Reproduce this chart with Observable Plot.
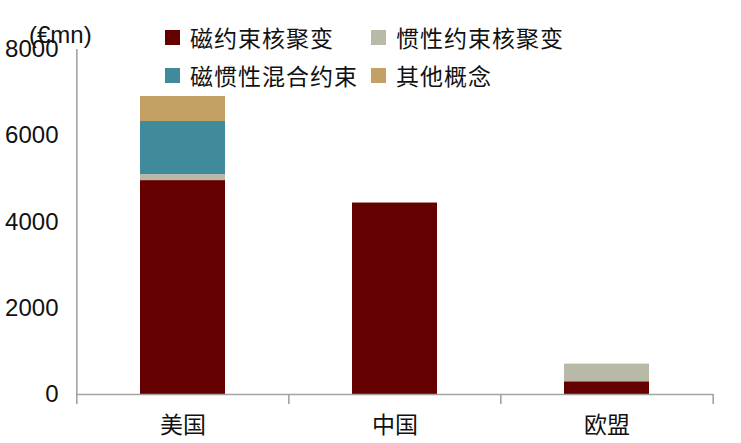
<!DOCTYPE html>
<html><head><meta charset="utf-8">
<script src="https://cdn.jsdelivr.net/npm/d3@7"></script>
<script src="https://cdn.jsdelivr.net/npm/@observablehq/plot@0.6"></script>
<style>
body{margin:0;background:#fff;}
#wrap{position:relative;width:741px;height:443px;font-family:"Liberation Sans","Noto Sans CJK SC",sans-serif;}
#wrap svg{position:absolute;left:0;top:0;}
.lg{position:absolute;display:flex;align-items:center;height:30px;font-size:23px;letter-spacing:1px;color:#111;font-family:"Noto Sans CJK SC",sans-serif;white-space:nowrap;}
.sw{width:15px;height:15px;margin-right:10px;flex:none;}
.unit{position:absolute;left:29px;top:21px;font-size:24px;color:#111;font-family:"Liberation Sans",sans-serif;}
</style></head><body><div id="wrap"></div>
<script>
const countries = ["美国", "中国", "欧盟"];
const series = ["磁约束核聚变", "惯性约束核聚变", "磁惯性混合约束", "其他概念"];
const magnetic = [4960, 4440, 295];
const inertial = [140, 0, 410];
const hybrid = [1230, 0, 0];
const other = [580, 0, 0];
const colors = ["#650000", "#b9b9a8", "#3f8a9b", "#c3a063"];
const yTicks = [0, 2000, 4000, 6000, 8000];
const unitLabel = "(€mn)";

const values = [magnetic, inertial, hybrid, other];
const data = [];
countries.forEach((c, i) => series.forEach((s, j) => data.push({country: c, series: s, value: values[j][i]})));

const W = 741, H = 443, mL = 76, mR = 28, mT = 49, mB = 49;
const step = (W - mL - mR) / countries.length;
const yMax = 8000;
const tickLen = 10 * yMax / (H - mT - mB);
const axisColor = "#a3a3a3";

const chart = Plot.plot({
  width: W, height: H,
  marginLeft: mL, marginRight: mR, marginTop: mT, marginBottom: mB,
  style: {fontFamily: '"Liberation Sans","Noto Sans CJK SC",sans-serif', fontSize: "23px", color: "#111", background: "#fff"},
  x: {domain: countries, paddingInner: 0.6, paddingOuter: 0.3, label: null},
  y: {domain: [0, yMax], label: null},
  color: {domain: series, range: colors},
  marks: [
    Plot.barY(data, {x: "country", y: "value", fill: "series"}),
    Plot.ruleY([0], {stroke: axisColor, strokeWidth: 1.6}),
    Plot.ruleX(countries, {x: d => d, dx: -step / 2, y1: -tickLen, y2: 0, stroke: axisColor, strokeWidth: 1.6}),
    Plot.ruleX(countries.slice(-1), {x: d => d, dx: step / 2, y1: -tickLen, y2: 0, stroke: axisColor, strokeWidth: 1.6}),
    Plot.ruleX(countries.slice(0, 1), {x: d => d, dx: -step / 2, y1: 0, y2: yMax, stroke: axisColor, strokeWidth: 1.6}),
    Plot.axisY({ticks: yTicks, tickSize: 0, tickPadding: 18, tickFormat: d => String(d), fontSize: 24}),
    Plot.axisX({tickSize: 0, tickPadding: 22, fontSize: 23})
  ]
});
const wrap = document.getElementById("wrap");
wrap.appendChild(chart);

const u = document.createElement("div");
u.className = "unit";
u.textContent = unitLabel;
wrap.appendChild(u);

const legendPos = [[165, 22], [371, 22], [165, 60], [371, 60]];
series.forEach((s, i) => {
  const d = document.createElement("div");
  d.className = "lg";
  d.style.left = legendPos[i][0] + "px";
  d.style.top = legendPos[i][1] + "px";
  d.innerHTML = `<span class="sw" style="background:${colors[i]}"></span><span>${s}</span>`;
  wrap.appendChild(d);
});
</script></body></html>
